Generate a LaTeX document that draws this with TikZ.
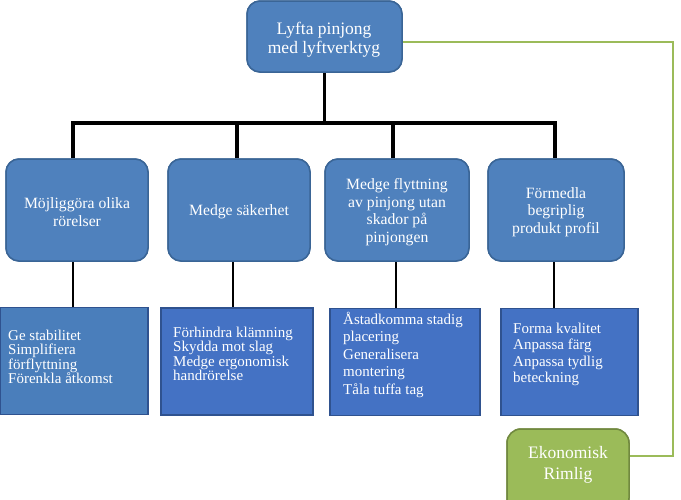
\documentclass[tikz,border=0pt]{standalone}
\usepackage{fontspec}
\setmainfont{Liberation Serif}
\definecolor{bfill}{HTML}{4F81BD}
\definecolor{bborder}{HTML}{3A6596}
\definecolor{sfillA}{HTML}{4A7EBB}
\definecolor{sfillB}{HTML}{4472C4}
\definecolor{sborder}{HTML}{2F528F}
\definecolor{gfill}{HTML}{9BBB59}
\definecolor{gborder}{HTML}{71893F}
\begin{document}
\begin{tikzpicture}[x=1pt,y=-1pt,
  rbox/.style={draw=bborder, fill=bfill, line width=1.5pt, rounded corners=13pt, inner sep=0pt, minimum height=102pt},
  sbox/.style={draw=sborder, fill=sfillB, line width=1.2pt, inner sep=0pt, minimum height=107pt},
  gbox/.style={draw=gborder, fill=gfill, line width=1.5pt, rounded corners=14pt, inner sep=0pt},
  toptext/.style={text=white, align=center, inner sep=0pt, font=\fontsize{17.5}{19}\selectfont},
  midtext/.style={text=white, align=center, inner sep=0pt, font=\fontsize{15.7}{17.5}\selectfont},
  lowtext/.style={text=white, align=left, inner sep=0pt, anchor=base west},
  tree/.style={line width=3.5pt, black},
  thin/.style={line width=2pt, black},
  gline/.style={line width=2.8pt, gfill}]
\useasboundingbox (0,0) rectangle (681,499);
% coordinates
\coordinate (bar) at (324.5,123);
\coordinate (gc) at (673,42);
% boxes
\node[rbox, minimum width=155pt, minimum height=71pt] (top) at (324.5,36.5) {};
\node[rbox, minimum width=142pt] (b1) at (77,210) {};
\node[rbox, minimum width=142pt] (b2) at (239,210) {};
\node[rbox, minimum width=144pt] (b3) at (397,210) {};
\node[rbox, minimum width=136pt] (b4) at (556,210) {};
\node[sbox, fill=sfillA, minimum width=148pt] (c1) at (74,361) {};
\node[sbox, minimum width=152pt] (c2) at (237,361.5) {};
\node[sbox, minimum width=150pt] (c3) at (405,362) {};
\node[sbox, minimum width=137pt] (c4) at (569.5,362) {};
\node[gbox, minimum width=122pt, minimum height=83pt] (eko) at (568,470.5) {};
% connectors
\draw[tree] (top.south) -- (bar);
\draw[tree, line join=miter] ([xshift=-4pt]b1.north) |- (bar) -| ([xshift=-1pt]b4.north);
\draw[tree] ([xshift=-2pt]b2.north) -- ([xshift=-2pt]b2.north |- bar);
\draw[tree] ([xshift=-4pt]b3.north) -- ([xshift=-4pt]b3.north |- bar);
\draw[thin] ([xshift=-4pt]b1.south) -- ([xshift=-4pt]b1.south |- c1.north);
\draw[thin] ([xshift=-6pt]b2.south) -- ([xshift=-6pt]b2.south |- c2.north);
\draw[thin] ([xshift=-1pt]b3.south) -- ([xshift=-1pt]b3.south |- c3.north);
\draw[thin] ([xshift=-2pt]b4.south) -- ([xshift=-2pt]b4.south |- c4.north);
\draw[gline] ([yshift=-5.5pt]top.east) -- (gc) |- ([yshift=14.5pt]eko.east);
% redraw boxes over line ends
\node[rbox, minimum width=155pt, minimum height=71pt] at (top) {};
\node[rbox, minimum width=142pt] at (b1) {};
\node[rbox, minimum width=142pt] at (b2) {};
\node[rbox, minimum width=144pt] at (b3) {};
\node[rbox, minimum width=136pt] at (b4) {};
\node[sbox, fill=sfillA, minimum width=148pt] at (c1) {};
\node[sbox, minimum width=152pt] at (c2) {};
\node[sbox, minimum width=150pt] at (c3) {};
\node[sbox, minimum width=137pt] at (c4) {};
\node[gbox, minimum width=122pt, minimum height=83pt] at (eko) {};
% texts
\node[toptext] (t0) at (324,39.3) {Lyfta pinjong\\med lyftverktyg};
\node[midtext] (tb1) at (77,212) {Möjliggöra olika\\rörelser};
\node[midtext] (tb2) at (239,212) {Medge säkerhet};
\node[midtext] (tb3) at (397,212) {Medge flyttning\\av pinjong utan\\skador på\\pinjongen};
\node[midtext] (tb4) at (556,212) {Förmedla\\begriplig\\produkt profil};
\node[lowtext, font=\fontsize{15}{14.5}\selectfont] (tc1) at (8,383.5) {Ge stabilitet\\Simplifiera\\förflyttning\\Förenkla åtkomst};
\node[lowtext, font=\fontsize{15}{14.5}\selectfont] (tc2) at (173,380.5) {Förhindra klämning\\Skydda mot slag\\Medge ergonomisk\\handrörelse};
\node[lowtext, font=\fontsize{15}{17.5}\selectfont] (tc3) at (343,394) {Åstadkomma stadig\\placering\\Generalisera\\montering\\Tåla tuffa tag};
\node[lowtext, font=\fontsize{15}{16.5}\selectfont] (tc4) at (513,382.5) {Forma kvalitet\\Anpassa färg\\Anpassa tydlig\\beteckning};
\node[toptext, font=\fontsize{17.5}{21}\selectfont] (te) at (568,465.3) {Ekonomisk\\Rimlig};
\end{tikzpicture}
\end{document}
